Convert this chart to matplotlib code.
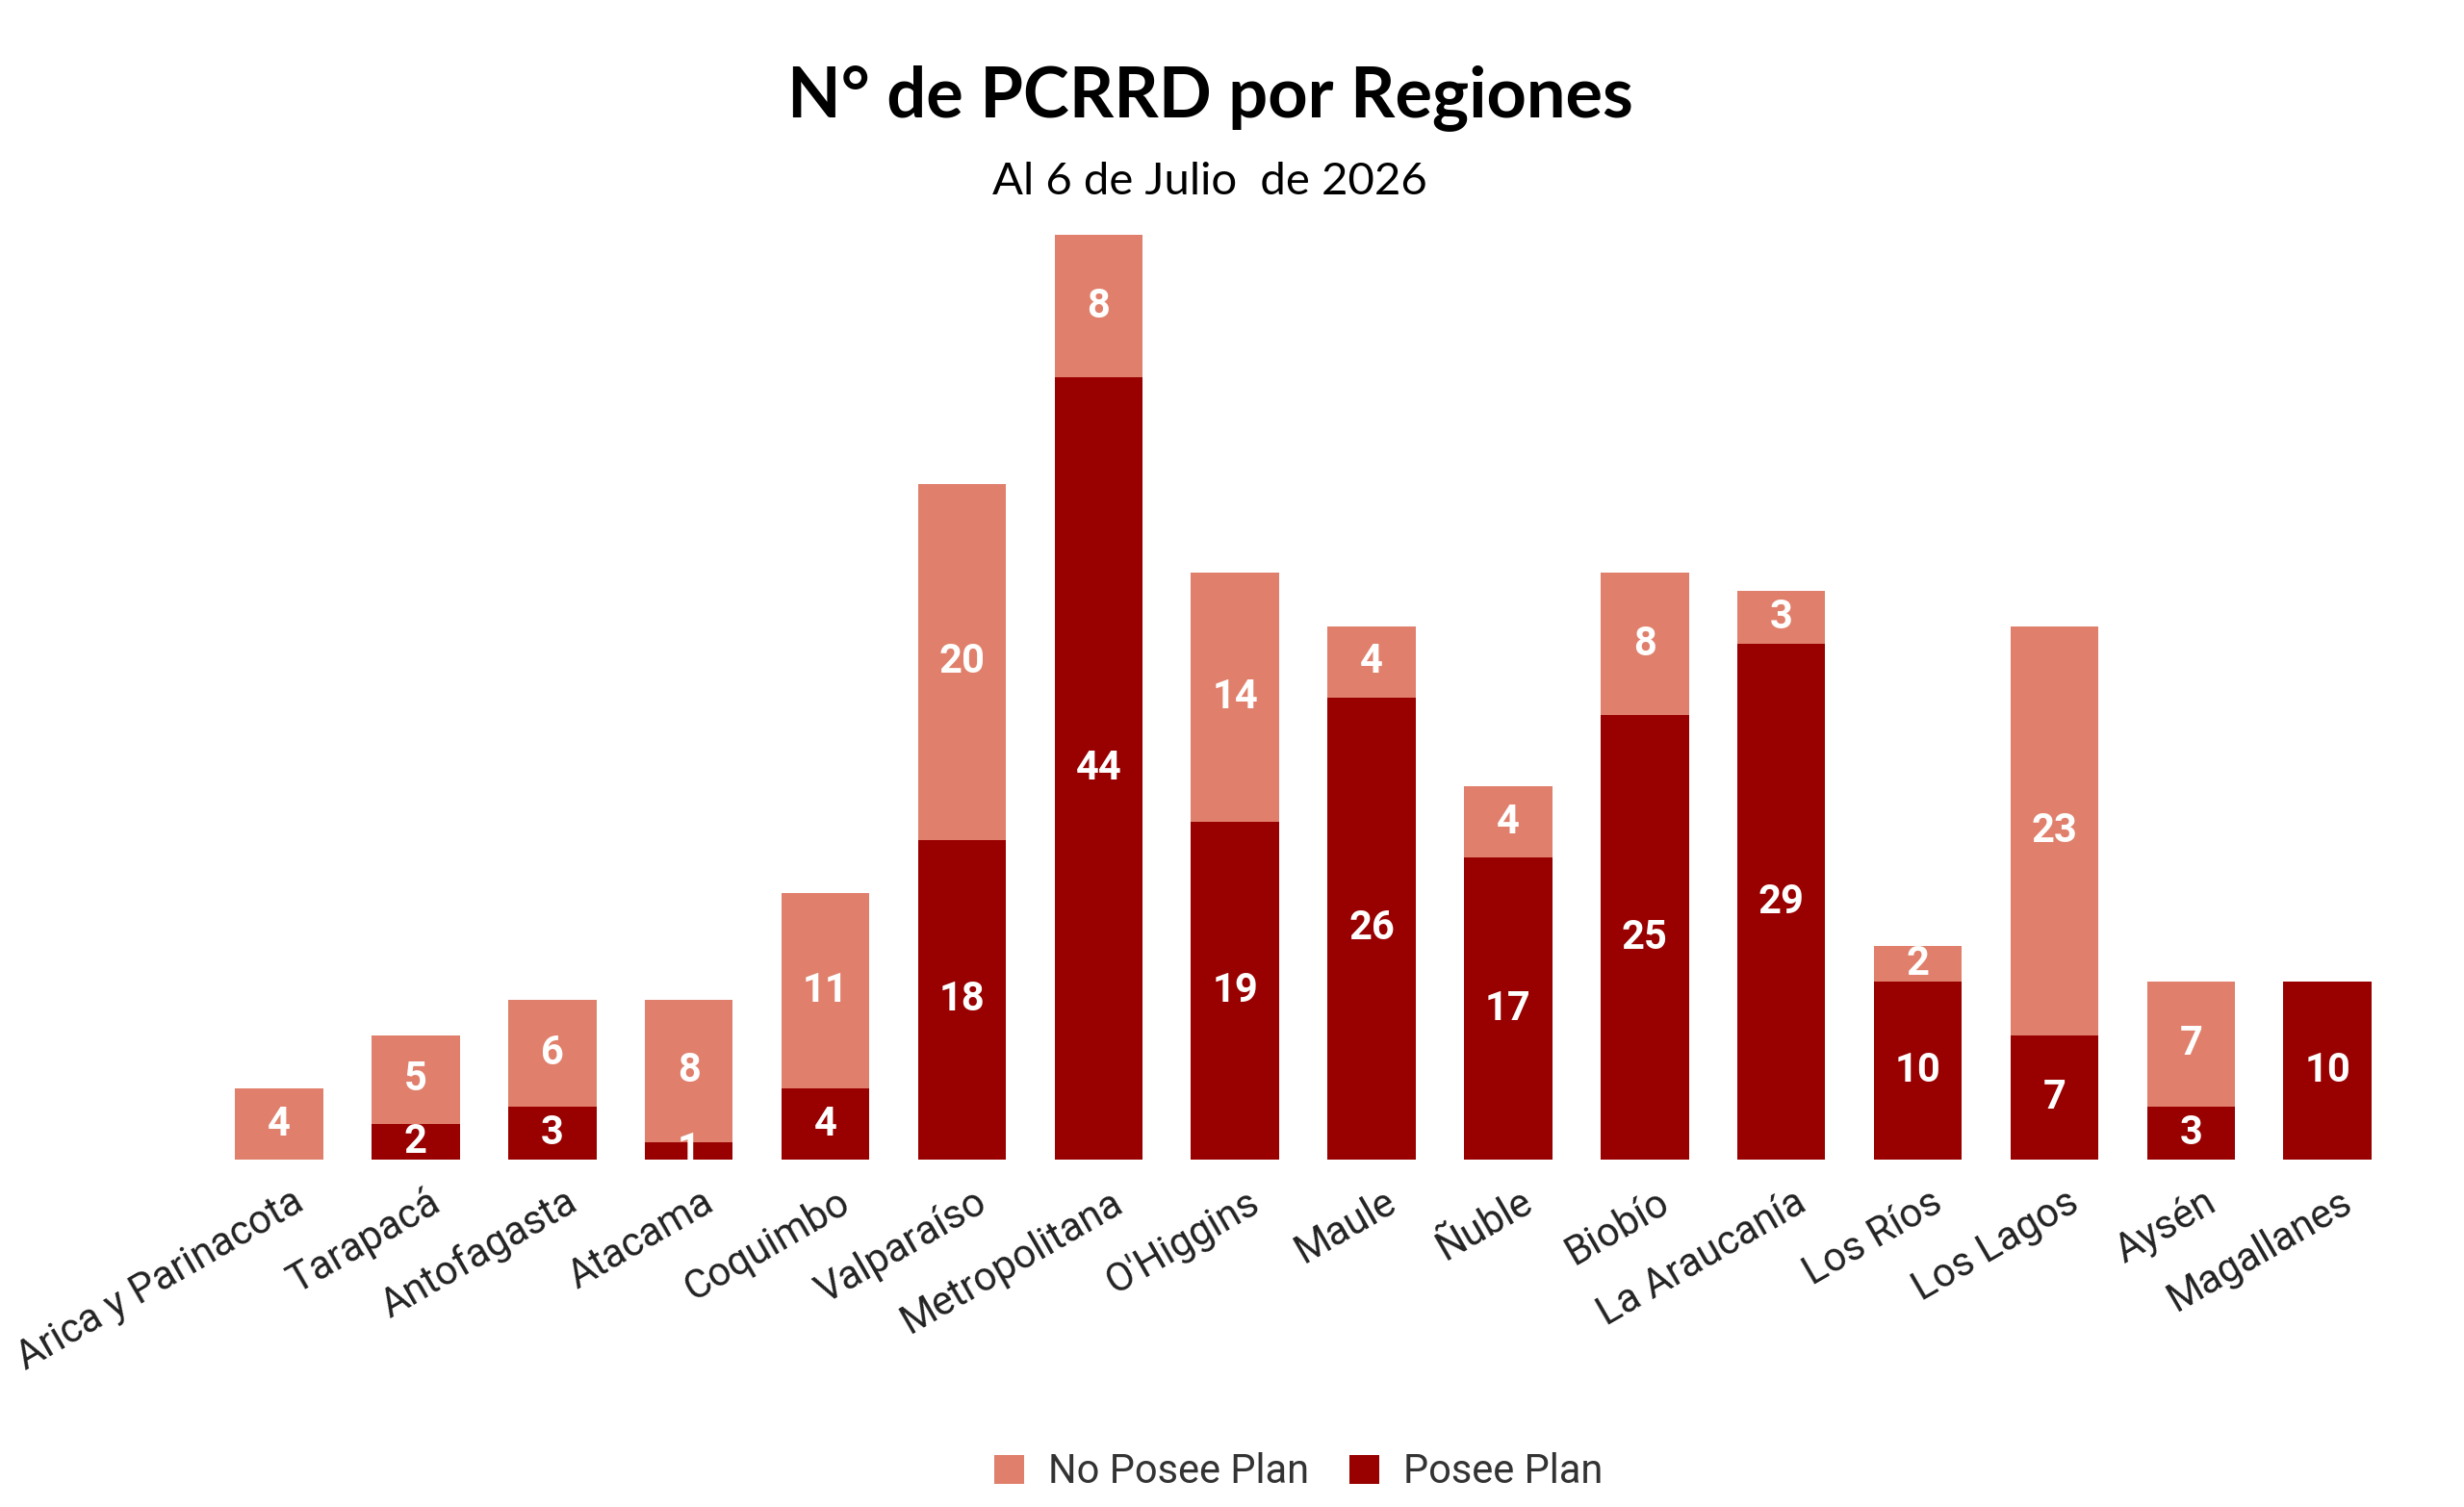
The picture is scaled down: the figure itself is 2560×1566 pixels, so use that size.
import matplotlib
matplotlib.use("Agg")
import matplotlib.pyplot as plt
import matplotlib.transforms as mtransforms
import numpy as np

# Data
regiones = ["Arica y Parinacota", "Tarapacá", "Antofagasta", "Atacama", "Coquimbo",
            "Valparaíso", "Metropolitana", "O'Higgins", "Maule", "Ñuble", "Biobío",
            "La Araucanía", "Los Ríos", "Los Lagos", "Aysén", "Magallanes"]
posee_plan = [0, 2, 3, 1, 4, 18, 44, 19, 26, 17, 25, 29, 10, 7, 3, 10]
no_posee_plan = [4, 5, 6, 8, 11, 20, 8, 14, 4, 4, 8, 3, 2, 23, 7, 0]

color_no = "#E0806C"
color_si = "#990000"

fig = plt.figure(figsize=(25.6, 15.66), dpi=100)
ax = fig.add_axes([0.0856, 0.2305, 0.8867, 0.6134])

x = np.arange(len(regiones))
posee = np.array(posee_plan)
no_posee = np.array(no_posee_plan)
width = 0.645

ax.bar(x, posee, width, color=color_si, label="Posee Plan")
ax.bar(x, no_posee, width, bottom=posee, color=color_no, label="No Posee Plan")

# value labels in the middle of each segment
for i in range(len(x)):
    if posee[i] > 0:
        ax.text(x[i], posee[i] / 2, str(posee[i]), ha="center", va="center",
                color="white", fontsize=30, fontweight="bold", family="Roboto")
    if no_posee[i] > 0:
        ax.text(x[i], posee[i] + no_posee[i] / 2, str(no_posee[i]), ha="center",
                va="center", color="white", fontsize=30, fontweight="bold",
                family="Roboto")

ax.set_xlim(-0.5, len(regiones) - 0.5)
ax.set_ylim(0, 52)
ax.set_yticks([])
ax.set_xticks(x)
ax.set_xticklabels(regiones, rotation=30, ha="right", rotation_mode="anchor",
                   fontsize=30, family="Roboto", color="#222222")
ax.tick_params(axis="x", length=0, pad=17)
# nudge labels a bit to the right
offset = mtransforms.ScaledTranslation(0.12, 0, fig.dpi_scale_trans)
for lab in ax.get_xticklabels():
    lab.set_transform(lab.get_transform() + offset)
for s in ax.spines.values():
    s.set_visible(False)

fig.text(0.491, 0.935, "N° de PCRRD por Regiones", ha="center", va="center",
         fontsize=52, fontweight="bold", family="Lato")
fig.text(0.491, 0.879, "Al 6 de Julio  de 2026", ha="center", va="center",
         fontsize=34, family="Lato")

handles, labels = ax.get_legend_handles_labels()
fig.legend(handles[::-1], labels[::-1], loc="center", bbox_to_anchor=(0.527, 0.023),
           ncol=2, frameon=False, prop={"family": "Roboto", "size": 30},
           handlelength=0.75, handleheight=0.75, handletextpad=0.6, columnspacing=1.0,
           labelcolor="#333333")

fig.savefig("out.png", dpi=100, facecolor="white")
